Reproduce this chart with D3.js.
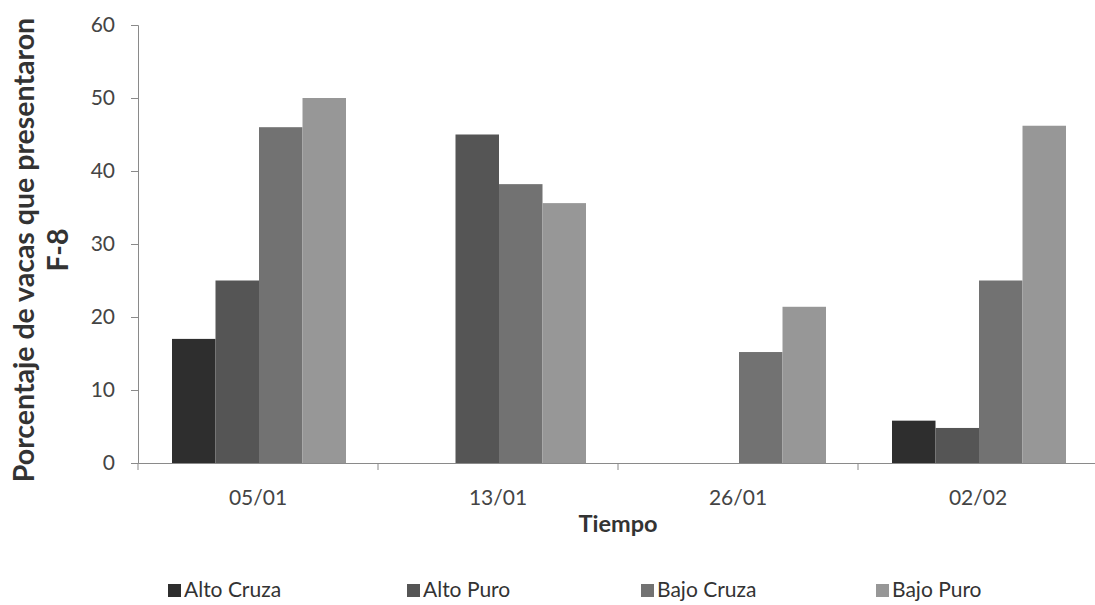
<!DOCTYPE html>
<html>
<head>
<meta charset="utf-8">
<script src="https://cdn.jsdelivr.net/npm/d3@7"></script>
<style>
  html, body { margin: 0; padding: 0; background: #fff; overflow: hidden; }
  svg { display: block; font-family: Lato, "Open Sans", sans-serif; }
</style>
</head>
<body>
<svg id="chart" width="1095" height="605"></svg>
<script>
// Fechas de observación
const categories = ["05/01", "13/01", "26/01", "02/02"];
// Grupos
const seriesNames = ["Alto Cruza", "Alto Puro", "Bajo Cruza", "Bajo Puro"];
const seriesColors = ["#2e2e2e", "#555555", "#727272", "#979797"];
// Porcentaje por grupo, en el orden de las fechas
const altoCruza = [17.0, 0, 0, 5.8];
const altoPuro = [25.0, 45.0, 0, 4.8];
const bajoCruza = [46.0, 38.2, 15.2, 25.0];
const bajoPuro = [50.0, 35.6, 21.4, 46.2];
const yTicks = [0, 10, 20, 30, 40, 50, 60];

const seriesValues = [altoCruza, altoPuro, bajoCruza, bajoPuro];

const svg = d3.select("#chart");
// The plot area runs slightly past the right edge of the canvas
const plotLeft = 138, plotRight = 1098, plotTop = 25, plotBottom = 463;

const x0 = d3.scaleBand().domain(categories).range([plotLeft, plotRight]).paddingInner(0).paddingOuter(0);
const x1 = d3.scaleBand().domain(seriesNames).range([34, 208]).padding(0);
const y = d3.scaleLinear().domain([0, 60]).range([plotBottom, plotTop]);

// Barras
const groups = svg.append("g").selectAll("g")
  .data(categories)
  .join("g")
  .attr("transform", d => `translate(${x0(d)},0)`);

groups.selectAll("rect")
  .data((c, i) => seriesNames.map((s, k) => ({ s, k, v: seriesValues[k][i] })).filter(d => d.v > 0))
  .join("rect")
  .attr("x", d => x1(d.s))
  .attr("y", d => y(d.v))
  .attr("width", x1.bandwidth())
  .attr("height", d => y(0) - y(d.v))
  .attr("fill", d => seriesColors[d.k]);

// Eje Y
const yAxis = svg.append("g")
  .attr("transform", `translate(${plotLeft},0)`)
  .call(d3.axisLeft(y).tickValues(yTicks).tickSize(7).tickPadding(16).tickFormat(d3.format("d")));
yAxis.select(".domain").attr("stroke", "#8a8a8a").attr("stroke-width", 1);
yAxis.selectAll(".tick line").attr("stroke", "#8a8a8a");
yAxis.selectAll("text").attr("font-size", 21).attr("fill", "#444").attr("font-family", "Lato, sans-serif");

// Eje X
const xAxis = svg.append("g")
  .attr("transform", `translate(0,${plotBottom})`)
  .call(d3.axisBottom(x0).tickSize(0).tickPadding(27));
xAxis.select(".domain").attr("stroke", "#8a8a8a").attr("stroke-width", 1);
xAxis.selectAll("text").attr("font-size", 21).attr("fill", "#444").attr("font-family", "Lato, sans-serif");

// Marcas entre categorías
const bounds = [plotLeft].concat(categories.map(c => x0(c) + x0.bandwidth()));
svg.append("g").selectAll("line")
  .data(bounds)
  .join("line")
  .attr("x1", d => d).attr("x2", d => d)
  .attr("y1", plotBottom).attr("y2", plotBottom + 7)
  .attr("stroke", "#8a8a8a");

// Títulos de ejes
svg.append("text")
  .attr("x", (plotLeft + plotRight) / 2).attr("y", 532)
  .attr("text-anchor", "middle")
  .attr("font-size", 23.5).attr("font-weight", "bold").attr("fill", "#333")
  .text("Tiempo");

const yTitle = svg.append("text")
  .attr("transform", "translate(0,250) rotate(-90)")
  .attr("text-anchor", "middle")
  .attr("font-size", 28.5).attr("font-weight", "bold").attr("fill", "#333");
yTitle.append("tspan").attr("x", 0).attr("y", 34).text("Porcentaje de vacas que presentaron");
yTitle.append("tspan").attr("x", 0).attr("y", 68).text("F-8");

// Leyenda
const legendX = [168, 407, 641, 876];
const legend = svg.append("g").selectAll("g")
  .data(seriesNames)
  .join("g")
  .attr("transform", (d, i) => `translate(${legendX[i]},597)`);
legend.append("rect")
  .attr("x", 0).attr("y", -13).attr("width", 13).attr("height", 13)
  .attr("fill", (d, i) => seriesColors[i]);
legend.append("text")
  .attr("x", 16).attr("y", 0)
  .attr("font-size", 21).attr("fill", "#333")
  .text(d => d);
</script>
</body>
</html>
